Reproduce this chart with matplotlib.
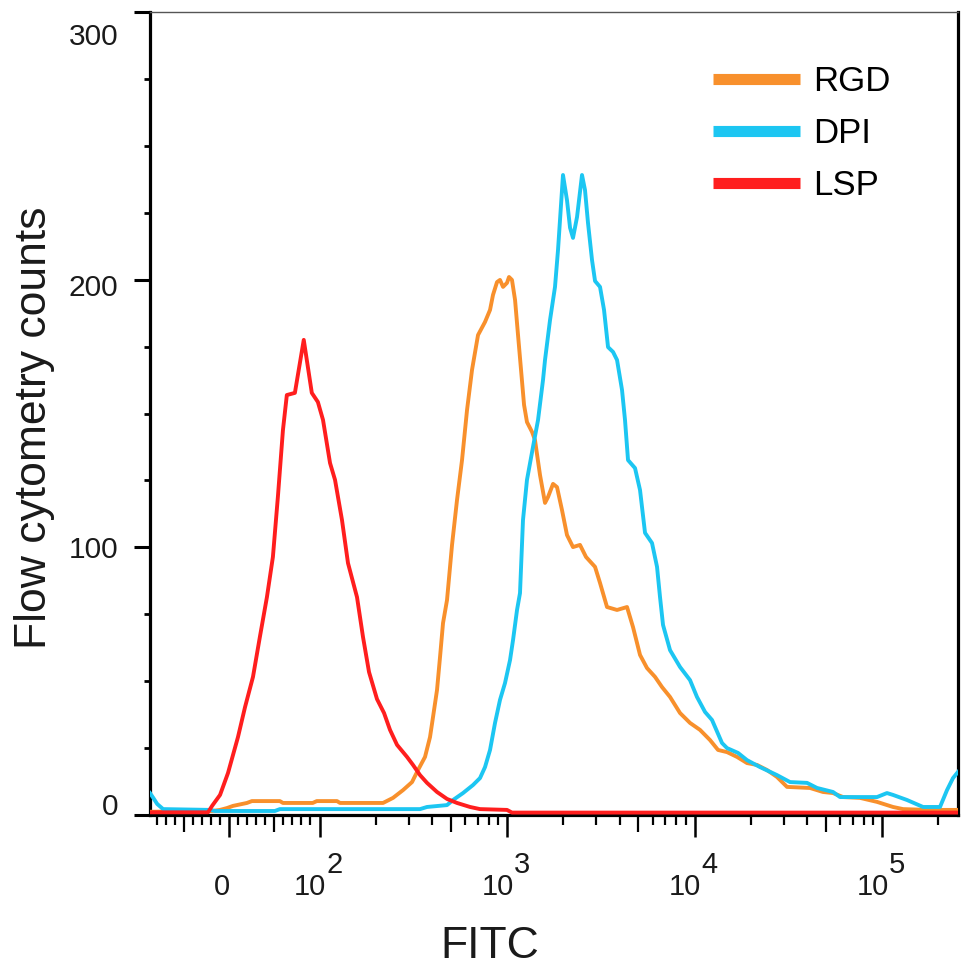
import numpy as np
import matplotlib
matplotlib.use("Agg")
import matplotlib.pyplot as plt
from matplotlib.lines import Line2D
from matplotlib.ticker import FixedLocator, NullLocator, NullFormatter

plt.rcParams['font.family'] = ['Liberation Sans', 'DejaVu Sans']

# ---------------- data (FITC intensity, cell counts) ----------------
series_names = ["RGD", "DPI", "LSP"]
series_colors = ["#F8902C", "#1CC6F2", "#FF1E1E"]

fitc_rgd = [-87.3, -18.7, -9.9, -2.2, 4.4, 19.8, 25.3, 56.2, 59.6, 92.5, 97, 124, 128.6,
            218.2, 246.7, 278.9, 311.5, 335.3, 365.4, 388.5, 403.1, 423.4, 439.3, 455.8,
            478.7, 509.1, 541.3, 575.6, 612.1, 650.8, 700.5, 763.4, 811.9, 842, 884.6,
            917.6, 952.5, 1000, 1025, 1063, 1104, 1145, 1188, 1233, 1278, 1360, 1410,
            1500, 1595, 1655, 1760, 1848, 1965, 2089, 2249, 2451, 2639, 2948, 3134, 3415,
            3862, 4366, 4700, 5122, 5581, 6159, 6710, 7404, 8371, 9464, 10700, 12100,
            13350, 14910, 16860, 19060, 21550, 24370, 27550, 31150, 41310, 48460, 54800,
            61960, 76340, 94070, 114500, 129500, 173800, 254300]
counts_rgd = [1.2, 1.5, 1.9, 2.6, 3.4, 4.5, 5.2, 5.2, 4.5, 4.5, 5.2, 5.2, 4.5,
              4.5, 6.4, 9.3, 12.3, 16.8, 21.7, 29.1, 36.6, 46.7, 59.0, 71.7,
              80.3, 100.9, 117.7, 132.6, 151.3, 166.3, 179.3, 184.2, 188.7, 194.3, 199.1,
              199.9, 197.3, 198.8, 201.0, 199.9, 192.4, 179.3, 166.3, 153.2, 146.8, 143.1, 140.1,
              127.0, 116.6, 118.8, 123.7, 122.5, 113.9, 104.6, 100.1, 100.9, 96.4, 92.7, 86.7, 77.7,
              76.6, 77.7, 70.2, 59.8, 54.9, 51.6, 47.8, 44.1, 38.1, 34.4, 31.8, 28.0,
              24.3, 23.5, 21.7, 19.4, 18.7, 16.8, 14.2, 10.5, 10.1, 8.6, 8.2,
              6.7, 6.4, 4.9, 3.0, 2.2, 1.9, 1.9]

fitc_dpi = [-87.3, -83.7, -79.3, -72.8, -21.0, -15.4, 50.7, 56.2, 343.7, 374.5, 478.7,
            515.4, 582.7, 658.8, 717.9, 763.4, 811.9, 863.2, 917.6, 975.8, 1038, 1077,
            1131, 1173, 1217, 1278, 1376, 1464, 1556, 1595, 1696, 1803, 1871, 1989, 2089,
            2169, 2249, 2363, 2512, 2606, 2704, 2841, 2948, 3134, 3292, 3458, 3677, 3862,
            4106, 4259, 4420, 4817, 5122, 5447, 5935, 6312, 6548, 6794, 7404, 8371, 9464,
            10310, 11380, 12400, 14020, 14910, 17060, 19060, 22360, 27550, 32320, 39830,
            45030, 54800, 59730, 94070, 106300, 114500, 136000, 165500, 203900, 222200,
            239200, 254300]
counts_dpi = [8.2, 6.4, 4.1, 2.2, 1.9, 1.5, 1.5, 2.2, 2.2, 3.0, 3.7,
              5.6, 8.2, 11.2, 13.8, 17.9, 24.3, 34.4, 43.0, 49.3, 57.9, 65.4,
              76.6, 82.9, 110.2, 125.2, 137.5, 147.6, 162.5, 170.0, 184.9, 197.3, 211.1, 239.1, 229.7,
              219.4, 215.6, 223.4, 239.1, 233.5, 221.2, 207.3, 199.5, 197.3, 188.7, 174.8, 173.0, 170.0,
              158.8, 147.6, 132.6, 129.6, 121.4, 105.4, 101.6, 92.7, 81.4, 71.0, 61.6, 55.3, 50.4,
              44.1, 38.5, 35.5, 26.9, 25.0, 23.2, 20.5, 17.9, 14.9, 12.3, 12.0,
              10.1, 8.6, 6.7, 6.7, 8.2, 7.5, 5.6, 3.0, 3.0, 9.3,
              13.8, 16.1]

fitc_lsp = [-87.3, -32, -23.2, -18.7, -9.9, -1.1, 9.9, 17.7, 26.5, 34.1, 41.9, 48.5,
            54.0, 59.6, 63.9, 72.8, 82.6, 91.5, 98.2, 104.4, 113.8, 121.0, 131.8, 141.9,
            158.5, 170.6, 183.7, 202.6, 220.9, 237.7, 259.1, 292.9, 315.3, 343.7, 374.5,
            423.4, 478.7, 541.3, 635, 717.8, 1000, 1063, 254300]
counts_lsp = [1.0, 1.0, 1.0, 3.4, 7.5, 15.7, 29.1, 40.3, 51.6, 66.5, 81.4, 96.4,
              118.8, 143.8, 156.9, 157.7, 177.5, 157.7, 154.3, 147.6, 131.5, 125.2, 110.2, 94.1,
              81.4, 66.5, 53.4, 43.3, 38.1, 31.8, 26.2, 21.7, 18.7, 14.9, 12.0,
              8.6, 6.0, 4.5, 3.0, 2.2, 1.9, 0.9, 0.9]

x_major = [0, 100, 1000, 10000, 100000]
x_major_exp = [None, "2", "3", "4", "5"]
x_medium = [-50, 50, 500, 5000, 50000]
x_minor = [-80, -70, -60, -40, -30, -20, -10, 10, 20, 30, 40, 60, 70, 80, 90,
           200, 300, 400, 600, 700, 800, 900,
           2000, 3000, 4000, 6000, 7000, 8000, 9000,
           20000, 30000, 40000, 60000, 70000, 80000, 90000, 200000]
y_major = [0, 100, 200, 300]
y_minor = [25, 50, 75, 125, 150, 175, 225, 250, 275]
x_limits = (-87.3, 254300)
y_limits = (0, 300)

# ---------------- figure ----------------
fig = plt.figure(figsize=(9.69, 9.69), dpi=100)
ax = fig.add_axes([150 / 969, 154 / 969, 808 / 969, 803 / 969])

scale_kw = dict(linthresh=100, linscale=0.4344, base=10)
ax.set_xscale('symlog', **scale_kw)

order = [(fitc_rgd, counts_rgd, 0), (fitc_dpi, counts_dpi, 1), (fitc_lsp, counts_lsp, 2)]
for xs, ys, i in order:
    ax.plot(xs, ys, color=series_colors[i], lw=2.8, zorder=3 + i)

ax.set_xlim(*x_limits)
ax.set_ylim(*y_limits)

# spines
for s in ['left', 'bottom', 'right']:
    ax.spines[s].set_linewidth(2.3)
    ax.spines[s].set_color('black')
ax.spines['top'].set_linewidth(1.0)
ax.spines['top'].set_color('#555555')

# y ticks
ax.set_yticks(y_major)
ax.yaxis.set_minor_locator(FixedLocator(y_minor))
ax.yaxis.set_major_formatter(NullFormatter())
ax.tick_params(axis='y', which='major', direction='out', length=11.5, width=2.2, right=False)
ax.tick_params(axis='y', which='minor', direction='out', length=4.5, width=2.0, right=False)

# x ticks
ax.set_xticks(x_major)
ax.xaxis.set_minor_locator(FixedLocator(x_minor))
ax.xaxis.set_major_formatter(NullFormatter())
ax.xaxis.set_minor_formatter(NullFormatter())
ax.tick_params(axis='x', which='major', direction='out', length=16, width=1.8, top=False)
ax.tick_params(axis='x', which='minor', direction='out', length=7, width=1.6, top=False)

# medium x ticks on a twin axis with the same scale
ax2 = ax.twiny()
ax2.set_xscale('symlog', **scale_kw)
ax2.set_xlim(*x_limits)
ax2.xaxis.set_ticks_position('bottom')
ax2.set_xticks(x_medium)
ax2.xaxis.set_minor_locator(NullLocator())
ax2.xaxis.set_major_formatter(NullFormatter())
ax2.tick_params(axis='x', which='major', direction='out', length=12.5, width=1.6,
                bottom=True, top=False, labelbottom=False, labeltop=False)
for s in ax2.spines.values():
    s.set_visible(False)

# tick labels
lab_fs = 21
for v, e in zip(x_major, x_major_exp):
    if e is None:
        ax.annotate(str(v), xy=(v, 0), xycoords=('data', 'axes fraction'),
                    xytext=(-5, -57.6), textcoords='offset points',
                    ha='center', va='baseline', fontsize=lab_fs, color='#1a1a1a')
    else:
        ax.annotate("10", xy=(v, 0), xycoords=('data', 'axes fraction'),
                    xytext=(5, -57.6), textcoords='offset points',
                    ha='right', va='baseline', fontsize=lab_fs, color='#1a1a1a')
        ax.annotate(e, xy=(v, 0), xycoords=('data', 'axes fraction'),
                    xytext=(5, -41.8), textcoords='offset points',
                    ha='left', va='baseline', fontsize=lab_fs, color='#1a1a1a')

y_label_dy = {0: 0, 100: -8, 200: -11.5, 300: -23.8}
for v in y_major:
    ax.annotate(str(v), xy=(0, v), xycoords=('axes fraction', 'data'),
                xytext=(-23, y_label_dy[v]), textcoords='offset points',
                ha='right', va='baseline', fontsize=lab_fs + 0.5, color='#1a1a1a')

# axis titles
fig.text(490 / 969, 1 - 958 / 969, 'FITC', ha='center', va='baseline',
         fontsize=32, color='#1a1a1a')
fig.text(46 / 969, 1 - 428 / 969, 'Flow cytometry counts', rotation=90,
         rotation_mode='anchor', ha='center', va='baseline', fontsize=32, color='#1a1a1a')

# legend
handles = [Line2D([], [], color=c, lw=8, solid_capstyle='butt') for c in series_colors]
ax.legend(handles, series_names, loc='upper left',
          bbox_to_anchor=((713 - 150) / 808, (815 - 65) / 803),
          borderaxespad=0, borderpad=0, frameon=False, fontsize=25,
          handlelength=2.5, handletextpad=0.37, labelspacing=0.55)

fig.savefig('out.png', dpi=100)
